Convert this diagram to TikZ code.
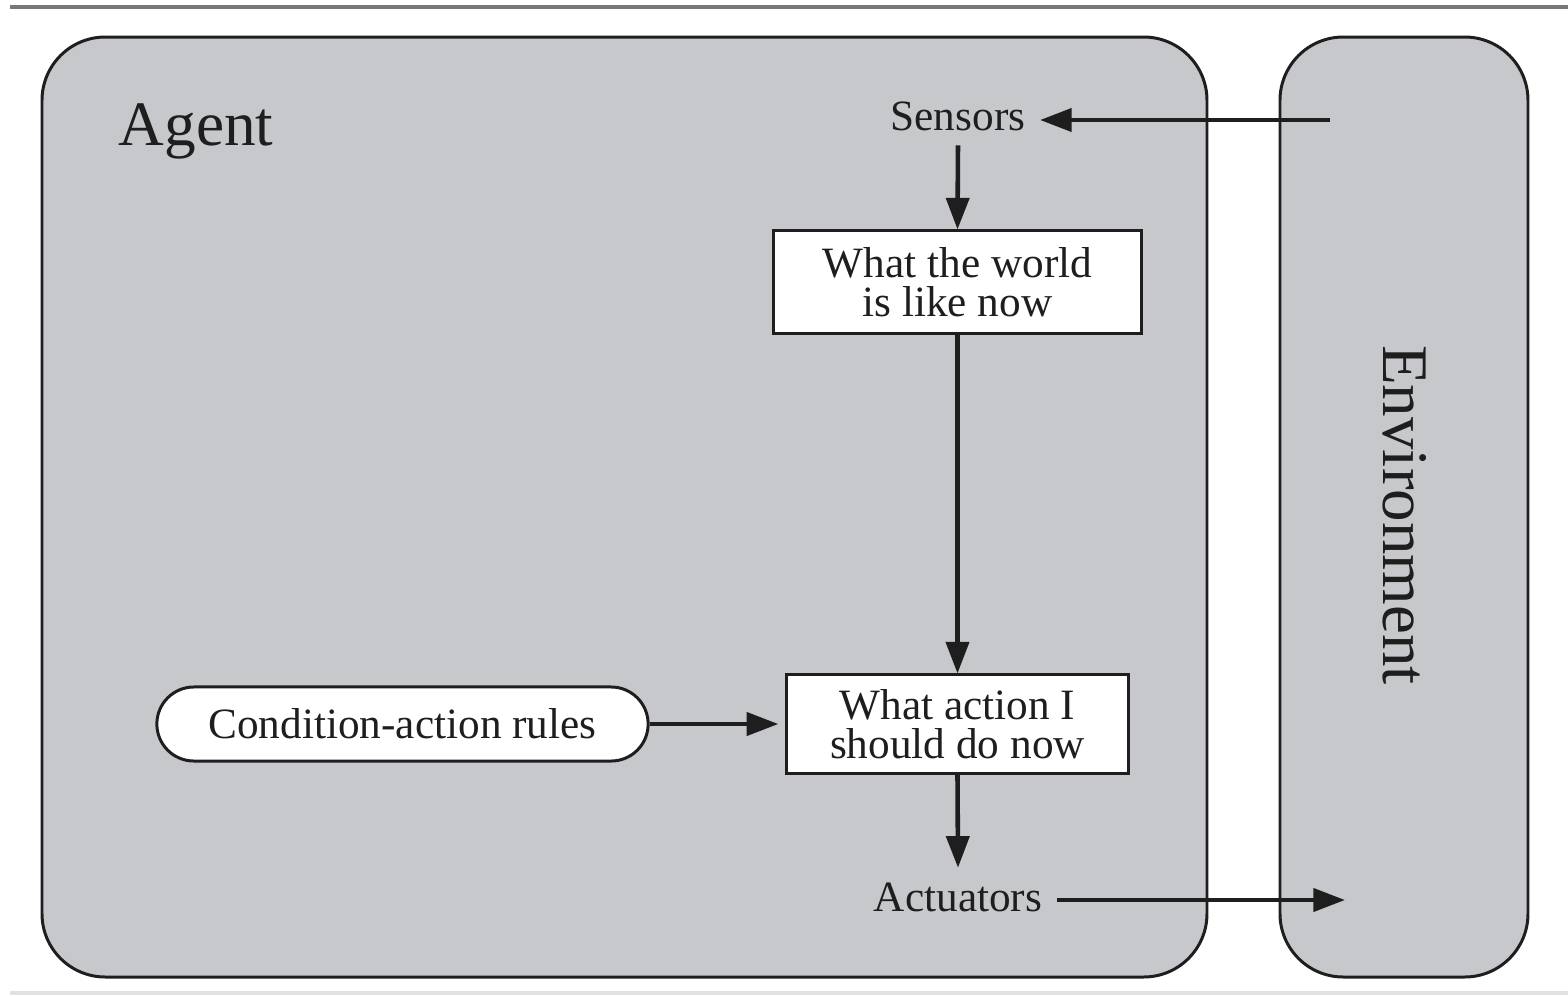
\documentclass[tikz,border=0pt]{standalone}
\usepackage{fontspec}
\setmainfont{Liberation Serif}
\usetikzlibrary{arrows.meta}
\definecolor{panelgray}{RGB}{199,200,203}
\definecolor{inkc}{RGB}{30,30,30}
\definecolor{rulegray}{RGB}{120,120,120}
\definecolor{lightrule}{RGB}{225,225,225}
\begin{document}
\begin{tikzpicture}[x=0.01cm,y=-0.01cm,
  panel/.style={draw=inkc,line width=0.85pt,fill=panelgray,rounded corners=18pt},
  lbl/.style={text=inkc,font=\fontsize{12.3}{11}\selectfont,inner sep=4pt},
  boxnode/.style={draw=inkc,line width=0.85pt,fill=white,text=inkc,align=center,
    font=\fontsize{12.3}{11}\selectfont,inner sep=0pt},
  conn/.style={draw=inkc,line width=1.3pt,-{Triangle[length=9pt,width=6.5pt]}}]
\useasboundingbox (0,0) rectangle (1568,996);
\fill[white] (0,0) rectangle (1568,996);
\draw[rulegray,line width=0.9pt] (10,7) -- (1568,7);
\draw[lightrule,line width=0.9pt] (10,993) -- (1568,993);
% panels
\draw[panel] (42,37) rectangle (1207,977);
\draw[panel] (1280,37) rectangle (1528,977);
% labels
\node[text=inkc,font=\fontsize{18}{20}\selectfont,anchor=base west,inner sep=0pt] (agent) at (118,145) {Agent};
\node[text=inkc,font=\fontsize{18.5}{20}\selectfont,rotate=-90,inner sep=0pt] (env) at (1405,515) {Environment};
\node[lbl] (sensors) at (958,116) {Sensors};
\node[lbl] (actuators) at (958,897) {Actuators};
\node[boxnode,minimum width=3.67cm,minimum height=1.02cm] (world) at (957.5,282) {What the world\\is like now};
\node[boxnode,minimum width=3.41cm,minimum height=0.98cm] (action) at (957.5,724) {What action I\\should do now};
\node[boxnode,minimum width=4.91cm,minimum height=0.74cm,rounded corners=0.37cm] (rules) at (402.5,724) {Condition-action rules};
% connector ends
\coordinate (envin) at (1330,120);
\coordinate (envout) at (1345,900);
% connectors
\draw[conn] (envin) -- (sensors.east |- envin);
\draw[conn] (sensors.south) -- (world.north);
\draw[conn] (world.south) -- (action.north);
\draw[conn] (rules.east) -- ([xshift=-2pt]action.west);
\draw[conn] (action.south) -- (actuators.north);
\draw[conn] (actuators.east |- envout) -- (envout);
\end{tikzpicture}
\end{document}
